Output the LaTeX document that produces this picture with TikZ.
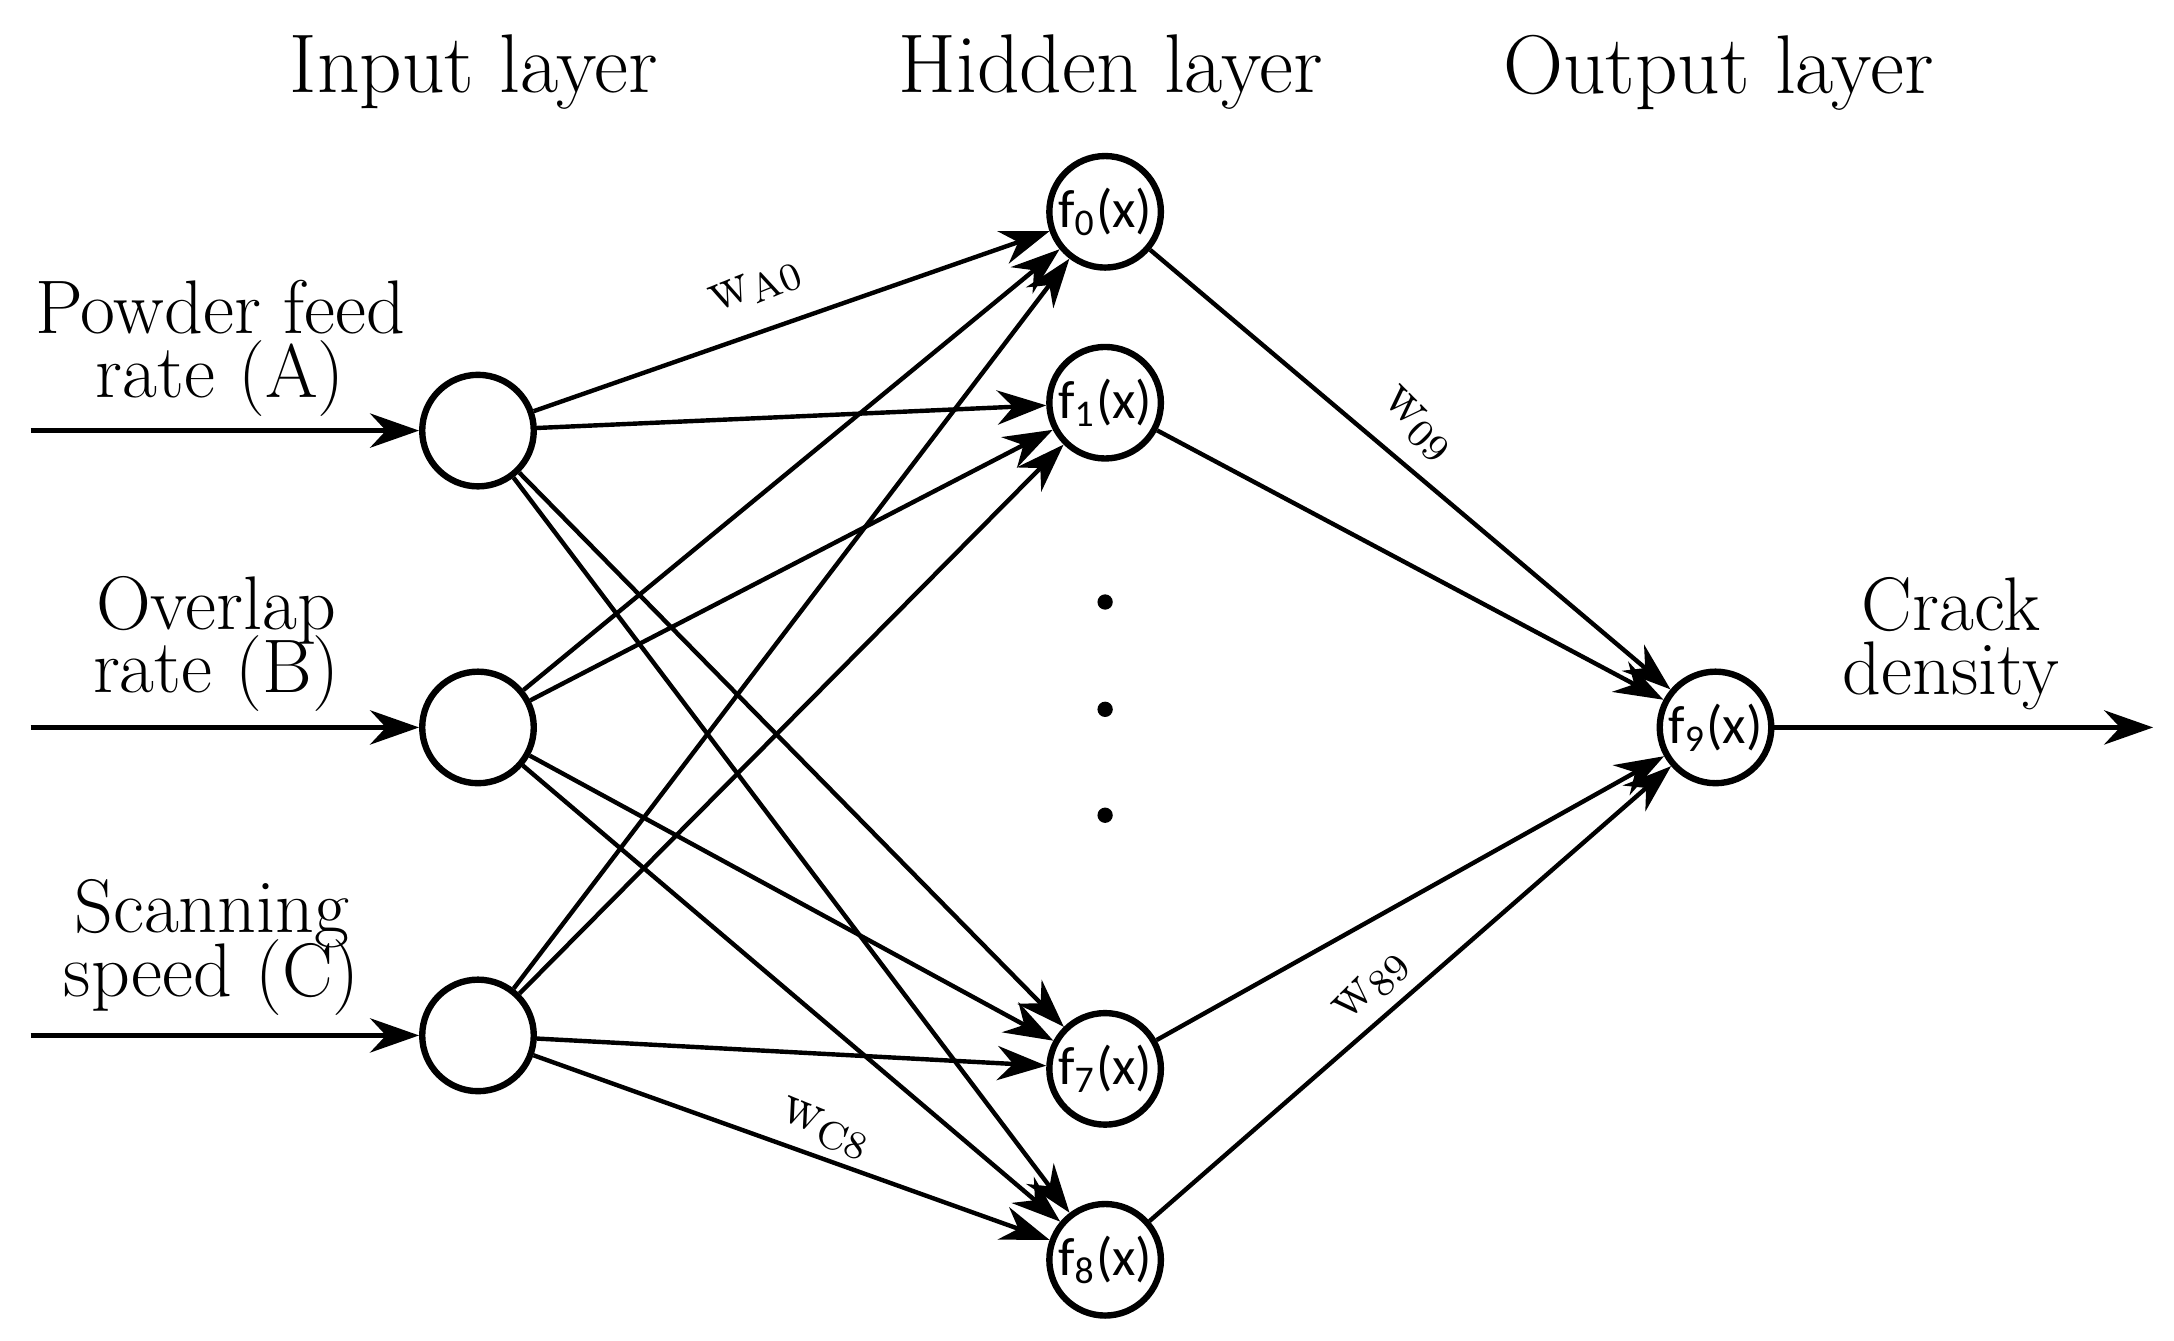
\documentclass[tikz,border=0pt]{standalone}
\usepackage{fontspec}
\newfontfamily\calfont{Carlito}
\usetikzlibrary{arrows.meta}
\begin{document}
\begin{tikzpicture}[x=0.01cm,y=-0.01cm,
  neu/.style={circle,draw,line width=1.3pt,minimum size=0.8cm,inner sep=0pt,font=\calfont\fontsize{11}{12}\selectfont},
  con/.style={line width=0.9pt,-{Stealth[length=10pt,width=7pt]}},
  big/.style={font=\fontsize{17}{19}\selectfont,align=center},
  lab/.style={font=\fontsize{15.5}{16}\selectfont,align=center},
  wl/.style={font=\fontsize{12}{13}\selectfont}]
\useasboundingbox (0,0) rectangle (1560,962);
\node[neu] (A) at (343,309) {};
\node[neu] (B) at (343,522) {};
\node[neu] (C) at (343,743) {};
\node[neu] (h0) at (793,152) {f\textsubscript{0}(x)};
\node[neu] (h1) at (793,289) {f\textsubscript{1}(x)};
\node[neu] (h7) at (793,767) {f\textsubscript{7}(x)};
\node[neu] (h8) at (793,904) {f\textsubscript{8}(x)};
\node[neu] (o) at (1231,522) {f\textsubscript{9}(x)};
\foreach \y in {432,509,585} \fill (793,\y) circle (5.5);
\node[big] (t1) at (340,52) {Input layer};
\node[big] (t2) at (797,52) {Hidden layer};
\node[big] (t3) at (1233,52) {Output layer};
\node[lab] (la) at (158,250) {Powder feed\\[-3pt]rate (A)};
\node[lab] (lb) at (155,462) {Overlap\\[-3pt]rate (B)};
\node[lab] (lc) at (152,680) {Scanning\\[-3pt]speed (C)};
\node[lab] (ld) at (1400,462) {Crack\\[-3pt]density};
\coordinate (ia) at (22,309); \coordinate (ib) at (22,522); \coordinate (ic) at (22,743);
\coordinate (out) at (1545,522);
\draw[con] (ia) -- (A); \draw[con] (ib) -- (B); \draw[con] (ic) -- (C);
\draw[con] (o) -- (out);
\foreach \i in {A,B,C} \foreach \h in {h0,h1,h7,h8} \draw[con] (\i) -- (\h);
\foreach \h in {h0,h1,h7,h8} \draw[con] (\h) -- (o);
\node[wl,rotate=22] (wa) at (543,206) {w$_{\mathrm{A0}}$};
\node[wl,rotate=-45] (w09) at (1017,305) {w$_{\mathrm{09}}$};
\node[wl,rotate=45] (w89) at (985,708) {w$_{\mathrm{89}}$};
\node[wl,rotate=-22] (wc) at (592,810) {w$_{\mathrm{C8}}$};
\end{tikzpicture}
\end{document}
